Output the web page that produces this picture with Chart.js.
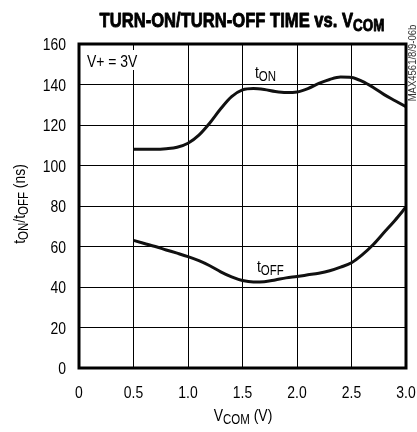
<!DOCTYPE html>
<html>
<head>
<meta charset="utf-8">
<script src="https://cdn.jsdelivr.net/npm/chart.js@4.4.0/dist/chart.umd.min.js"></script>
<style>
  html, body { margin: 0; padding: 0; background: #fff; }
  #wrap { width: 417px; height: 432px; position: relative; }
</style>
</head>
<body>
<div id="wrap"><canvas id="chart" width="417" height="432"></canvas></div>
<script>
// Data
const vcom = [0.5, 0.6, 0.7, 0.8, 0.9, 1.0, 1.1, 1.2, 1.3, 1.4, 1.5, 1.6, 1.7,
              1.8, 1.9, 2.0, 2.1, 2.2, 2.3, 2.4, 2.5, 2.6, 2.7, 2.8, 2.9, 3.0];
const tOn = [108, 108, 108, 108.3, 109, 111, 115, 121, 128, 134, 137.3, 138, 137.5,
             136.5, 136, 136.3, 138, 140.5, 142.5, 143.7, 143.5, 141.5, 138.5, 135, 132, 129];
const tOff = [63, 61.5, 60, 58.3, 56.7, 55, 53, 50.5, 47.5, 45, 43.2, 42.5, 42.6,
              43.5, 44.5, 45.2, 46, 46.8, 48, 49.8, 52, 56, 61, 67, 73, 79.5];
const xTicks = [0, 0.5, 1.0, 1.5, 2.0, 2.5, 3.0];
const yTicks = [0, 20, 40, 60, 80, 100, 120, 140, 160];

const FONT = "'Liberation Sans', Arial, sans-serif";
const SQUEEZE = 0.82;

// draw text made of [string, isSubscript] parts, squeezed horizontally
function drawParts(ctx, parts, x, y, size, weight, align, sx, stroke) {
    sx = sx || SQUEEZE;
    const big = (weight || '') + ' ' + size + 'px ' + FONT;
    const small = (weight || '') + ' ' + Math.round(size * 0.8) + 'px ' + FONT;
    let total = 0;
    parts.forEach(p => {
        ctx.font = p[1] ? small : big;
        total += ctx.measureText(p[0]).width;
    });
    ctx.save();
    ctx.translate(x, y);
    ctx.scale(sx, 1);
    let cx = 0;
    if (align === 'center') cx = -total / 2;
    if (align === 'right') cx = -total;
    ctx.textAlign = 'left';
    ctx.textBaseline = 'alphabetic';
    ctx.strokeStyle = ctx.fillStyle;
    ctx.lineWidth = stroke || 0;
    ctx.lineJoin = 'round';
    parts.forEach(p => {
        ctx.font = p[1] ? small : big;
        const ty = p[1] ? size * 0.2 : 0;
        ctx.fillText(p[0], cx, ty);
        if (stroke) ctx.strokeText(p[0], cx, ty);
        cx += ctx.measureText(p[0]).width;
    });
    ctx.restore();
}

const labelsPlugin = {
    id: 'labels',
    beforeDatasetsDraw(chart) {
        const ctx = chart.ctx;
        ctx.save();
        // white patches behind the in-plot labels
        ctx.fillStyle = '#fff';
        ctx.fillRect(84, 50, 54, 20);
        ctx.fillRect(249, 62, 38, 22);
        ctx.fillStyle = '#000';
        drawParts(ctx, [['V+ = 3V', false]], 87, 67, 17, '', 'left');
        drawParts(ctx, [['t', false], ['ON', true]], 255, 78, 17, '', 'left');
        drawParts(ctx, [['t', false], ['OFF', true]], 257, 272, 17, '', 'left');
        ctx.restore();
    },
    afterDraw(chart) {
        const ctx = chart.ctx;
        const area = chart.chartArea;
        const xs = chart.scales.x, ys = chart.scales.y;
        ctx.save();
        ctx.fillStyle = '#000';
        // frame
        ctx.lineWidth = 3;
        ctx.strokeStyle = '#000';
        ctx.strokeRect(area.left, area.top, area.right - area.left, area.bottom - area.top);
        // tick labels
        xTicks.forEach(v => {
            drawParts(ctx, [[v === 0 ? '0' : v.toFixed(1), false]], xs.getPixelForValue(v), 398, 17, '', 'center');
        });
        yTicks.forEach(v => {
            drawParts(ctx, [[String(v), false]], 66, ys.getPixelForValue(v) + 6, 17, '', 'right');
        });
        // title
        drawParts(ctx, [['TURN-ON/TURN-OFF TIME vs. V', false], ['COM', true]], 242, 27, 21, 'bold', 'center', 0.79, 0.9);
        // x axis title
        drawParts(ctx, [['V', false], ['COM', true], [' (V)', false]], 243, 421, 17, '', 'center');
        // y axis title
        ctx.translate(25, 204);
        ctx.rotate(-Math.PI / 2);
        drawParts(ctx, [['t', false], ['ON', true], ['/t', false], ['OFF', true], [' (ns)', false]], 0, 0, 17, '', 'center');
        ctx.restore();
        // part number on the right edge
        ctx.save();
        ctx.translate(416, 63);
        ctx.rotate(-Math.PI / 2);
        ctx.fillStyle = '#333';
        drawParts(ctx, [['MAX4561/8/9-06b', false]], 0, 0, 10, '', 'center', 0.95);
        ctx.restore();
    }
};

const ctx = document.getElementById('chart').getContext('2d');

new Chart(ctx, {
    type: 'line',
    data: {
        datasets: [
            {
                label: 'tON',
                data: vcom.map((v, i) => ({ x: v, y: tOn[i] })),
                borderColor: '#111',
                borderWidth: 3,
                pointRadius: 0,
                cubicInterpolationMode: 'monotone',
                fill: false
            },
            {
                label: 'tOFF',
                data: vcom.map((v, i) => ({ x: v, y: tOff[i] })),
                borderColor: '#111',
                borderWidth: 3,
                pointRadius: 0,
                cubicInterpolationMode: 'monotone',
                fill: false
            }
        ]
    },
    options: {
        responsive: false,
        animation: false,
        layout: { padding: { left: 0, right: 11, top: 44, bottom: 0 } },
        plugins: {
            legend: { display: false },
            tooltip: { enabled: false }
        },
        scales: {
            x: {
                type: 'linear',
                min: 0,
                max: 3,
                afterBuildTicks: scale => { scale.ticks = xTicks.map(v => ({ value: v })); },
                afterFit: scale => { scale.height = 64; },
                ticks: { display: false },
                grid: { color: '#000', lineWidth: 1, drawTicks: false },
                border: { display: false }
            },
            y: {
                min: 0,
                max: 160,
                afterBuildTicks: scale => { scale.ticks = yTicks.map(v => ({ value: v })); },
                afterFit: scale => { scale.width = 79; },
                ticks: { display: false },
                grid: { color: '#000', lineWidth: 1, drawTicks: false },
                border: { display: false }
            }
        }
    },
    plugins: [labelsPlugin]
});
</script>
</body>
</html>
